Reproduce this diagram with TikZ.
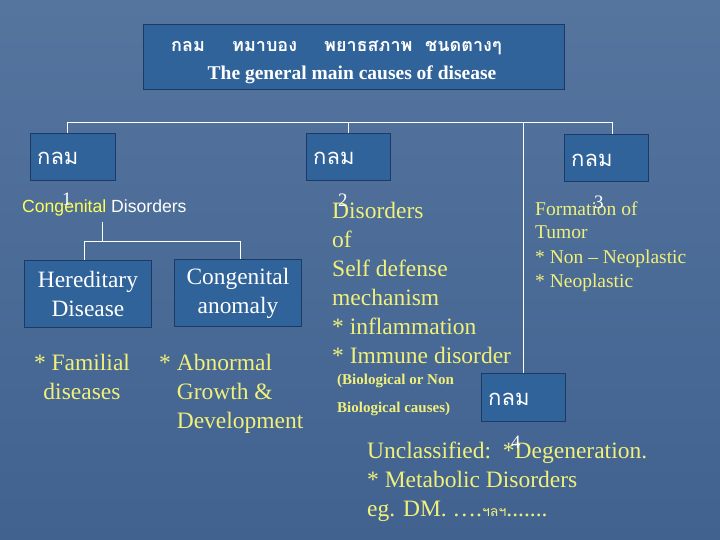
\documentclass[tikz,border=0pt]{standalone}
\usepackage{fontspec}
\setmainfont{Liberation Serif}
\newfontfamily\thaif[Script=Thai]{Loma}
\newfontfamily\sansf{Liberation Sans}
\definecolor{bgtop}{HTML}{55759F}
\definecolor{bgbot}{HTML}{41628F}
\definecolor{boxfill}{HTML}{30639A}
\definecolor{boxline}{HTML}{1C3A66}
\definecolor{ytext}{HTML}{F0F07A}
\definecolor{ybright}{HTML}{FFFF55}
\begin{document}
\begin{tikzpicture}[x=1pt,y=-1pt,
  tbox/.style={draw=boxline,fill=boxfill,line width=0.9pt,anchor=north west,inner sep=0pt},
  conn/.style={draw=white,line width=0.8pt},
  thaitxt/.style={text=white,inner sep=0pt,anchor=base west,font=\thaif\fontsize{22}{26}\selectfont},
  wtxt/.style={text=white,inner sep=0pt,align=center,font=\fontsize{23.4}{29}\selectfont},
  ytxt/.style={text=ytext,inner sep=0pt,align=left,anchor=base west,font=\fontsize{23.5}{29}\selectfont},
  num/.style={text=white,inner sep=0pt,anchor=base west,font=\fontsize{19}{19}\selectfont}
]
\useasboundingbox (0,0) rectangle (720,540);
\shade[top color=bgtop,bottom color=bgbot] (0,0) rectangle (720,540);

% title box
\node[tbox,minimum width=421pt,minimum height=65pt] (title) at (143,24) {};
\node[text=white,inner sep=0pt,anchor=base west,font=\thaif\bfseries\fontsize{18}{20}\selectfont] (t1) at (171,52) {กลม};
\node[text=white,inner sep=0pt,anchor=base west,font=\thaif\bfseries\fontsize{18}{20}\selectfont] (t2) at (232,52) {ทมาบอง};
\node[text=white,inner sep=0pt,anchor=base west,font=\thaif\bfseries\fontsize{18}{20}\selectfont] (t3) at (324,52) {พยาธสภาพ};
\node[text=white,inner sep=0pt,anchor=base west,font=\thaif\bfseries\fontsize{18}{20}\selectfont] (t4) at (425,52) {ชนดตางๆ};
\node[text=white,inner sep=0pt,anchor=base,font=\bfseries\fontsize{19.5}{20}\selectfont] (tsub) at (352,80) {The general main causes of disease};

% group boxes
\node[tbox,minimum width=85pt,minimum height=47pt] (b1) at (30,133) {};
\node[tbox,minimum width=84pt,minimum height=47pt] (b2) at (306,133) {};
\node[tbox,minimum width=84pt,minimum height=47pt] (b3) at (564,134) {};
\node[tbox,minimum width=84pt,minimum height=48pt] (b4) at (481,373) {};
\node[thaitxt] (g1) at (37,165) {กลม};
\node[thaitxt] (g2) at (313,165) {กลม};
\node[thaitxt] (g3) at (571,167) {กลม};
\node[thaitxt] (g4) at (488,405) {กลม};

% main connectors
\coordinate (hl) at (67,122);
\coordinate (hm) at (348,122);
\coordinate (hc) at (523,122);
\coordinate (hr) at (612,122);
\draw[conn] (hl) -- (hr);
\draw[conn] (hl) -- (hl |- b1.north);
\draw[conn] (hm) -- (hm |- b2.north);
\draw[conn] (hc) -- (hc |- b4.north);
\draw[conn] (hr) -- (hr |- b3.north);

% group 1
\node[inner sep=0pt,anchor=base west,font=\sansf\fontsize{17.6}{18}\selectfont] (cd) at (22,213) {\textcolor{ybright}{Congenital} \textcolor{white}{Disorders}};
\node[num] (n1) at (62,206) {1};
\node[tbox,minimum width=127pt,minimum height=67pt] (hd) at (24,260) {};
\node[wtxt] (hdt) at (hd.center) {Hereditary\\Disease};
\node[tbox,minimum width=127pt,minimum height=67pt] (ca) at (174,259) {};
\node[wtxt] (cat) at (ca.center) {Congenital\\anomaly};
\coordinate (c1top) at (102,222);
\coordinate (c1mid) at (102,241);
\coordinate (c1l) at (84,241);
\coordinate (c1r) at (240,241);
\draw[conn] (c1top) -- (c1mid);
\draw[conn] (c1l) -- (c1r);
\draw[conn] (c1l) -- (c1l |- hd.north);
\draw[conn] (c1r) -- (c1r |- ca.north);
\node[text=ytext,inner sep=0pt,align=center,anchor=base,font=\fontsize{23.5}{29}\selectfont] (fam) at (82,399) {* Familial\\diseases};
\node[ytxt] (abn) at (159,428) {* Abnormal\\\hphantom{* }Growth \&\\\hphantom{* }Development};

% group 2
\node[ytxt] (sd) at (332,363) {Disorders\\of\\Self defense\\mechanism\\* inflammation\\* Immune disorder};
\node[num] (n2) at (338,207) {2};
\node[text=ytext,inner sep=0pt,anchor=base west,align=left,font=\bfseries\fontsize{15}{28}\selectfont] (bio) at (337,412) {(Biological or Non\\Biological causes)};

% group 3
\node[text=ytext,inner sep=0pt,anchor=base west,align=left,font=\fontsize{19.5}{24}\selectfont] (tum) at (535,287) {Formation of\\Tumor\\* Non -- Neoplastic\\* Neoplastic};
\node[num] (n3) at (594,208) {3};

% group 4
\node[ytxt] (unc) at (367,516) {Unclassified:\ \ *Degeneration.\\* Metabolic Disorders\\eg. DM. \dots.{\thaif\fontsize{14}{14}\selectfont ฯลฯ}.......};
\node[num] (n4) at (511,448) {4};
\end{tikzpicture}
\end{document}
